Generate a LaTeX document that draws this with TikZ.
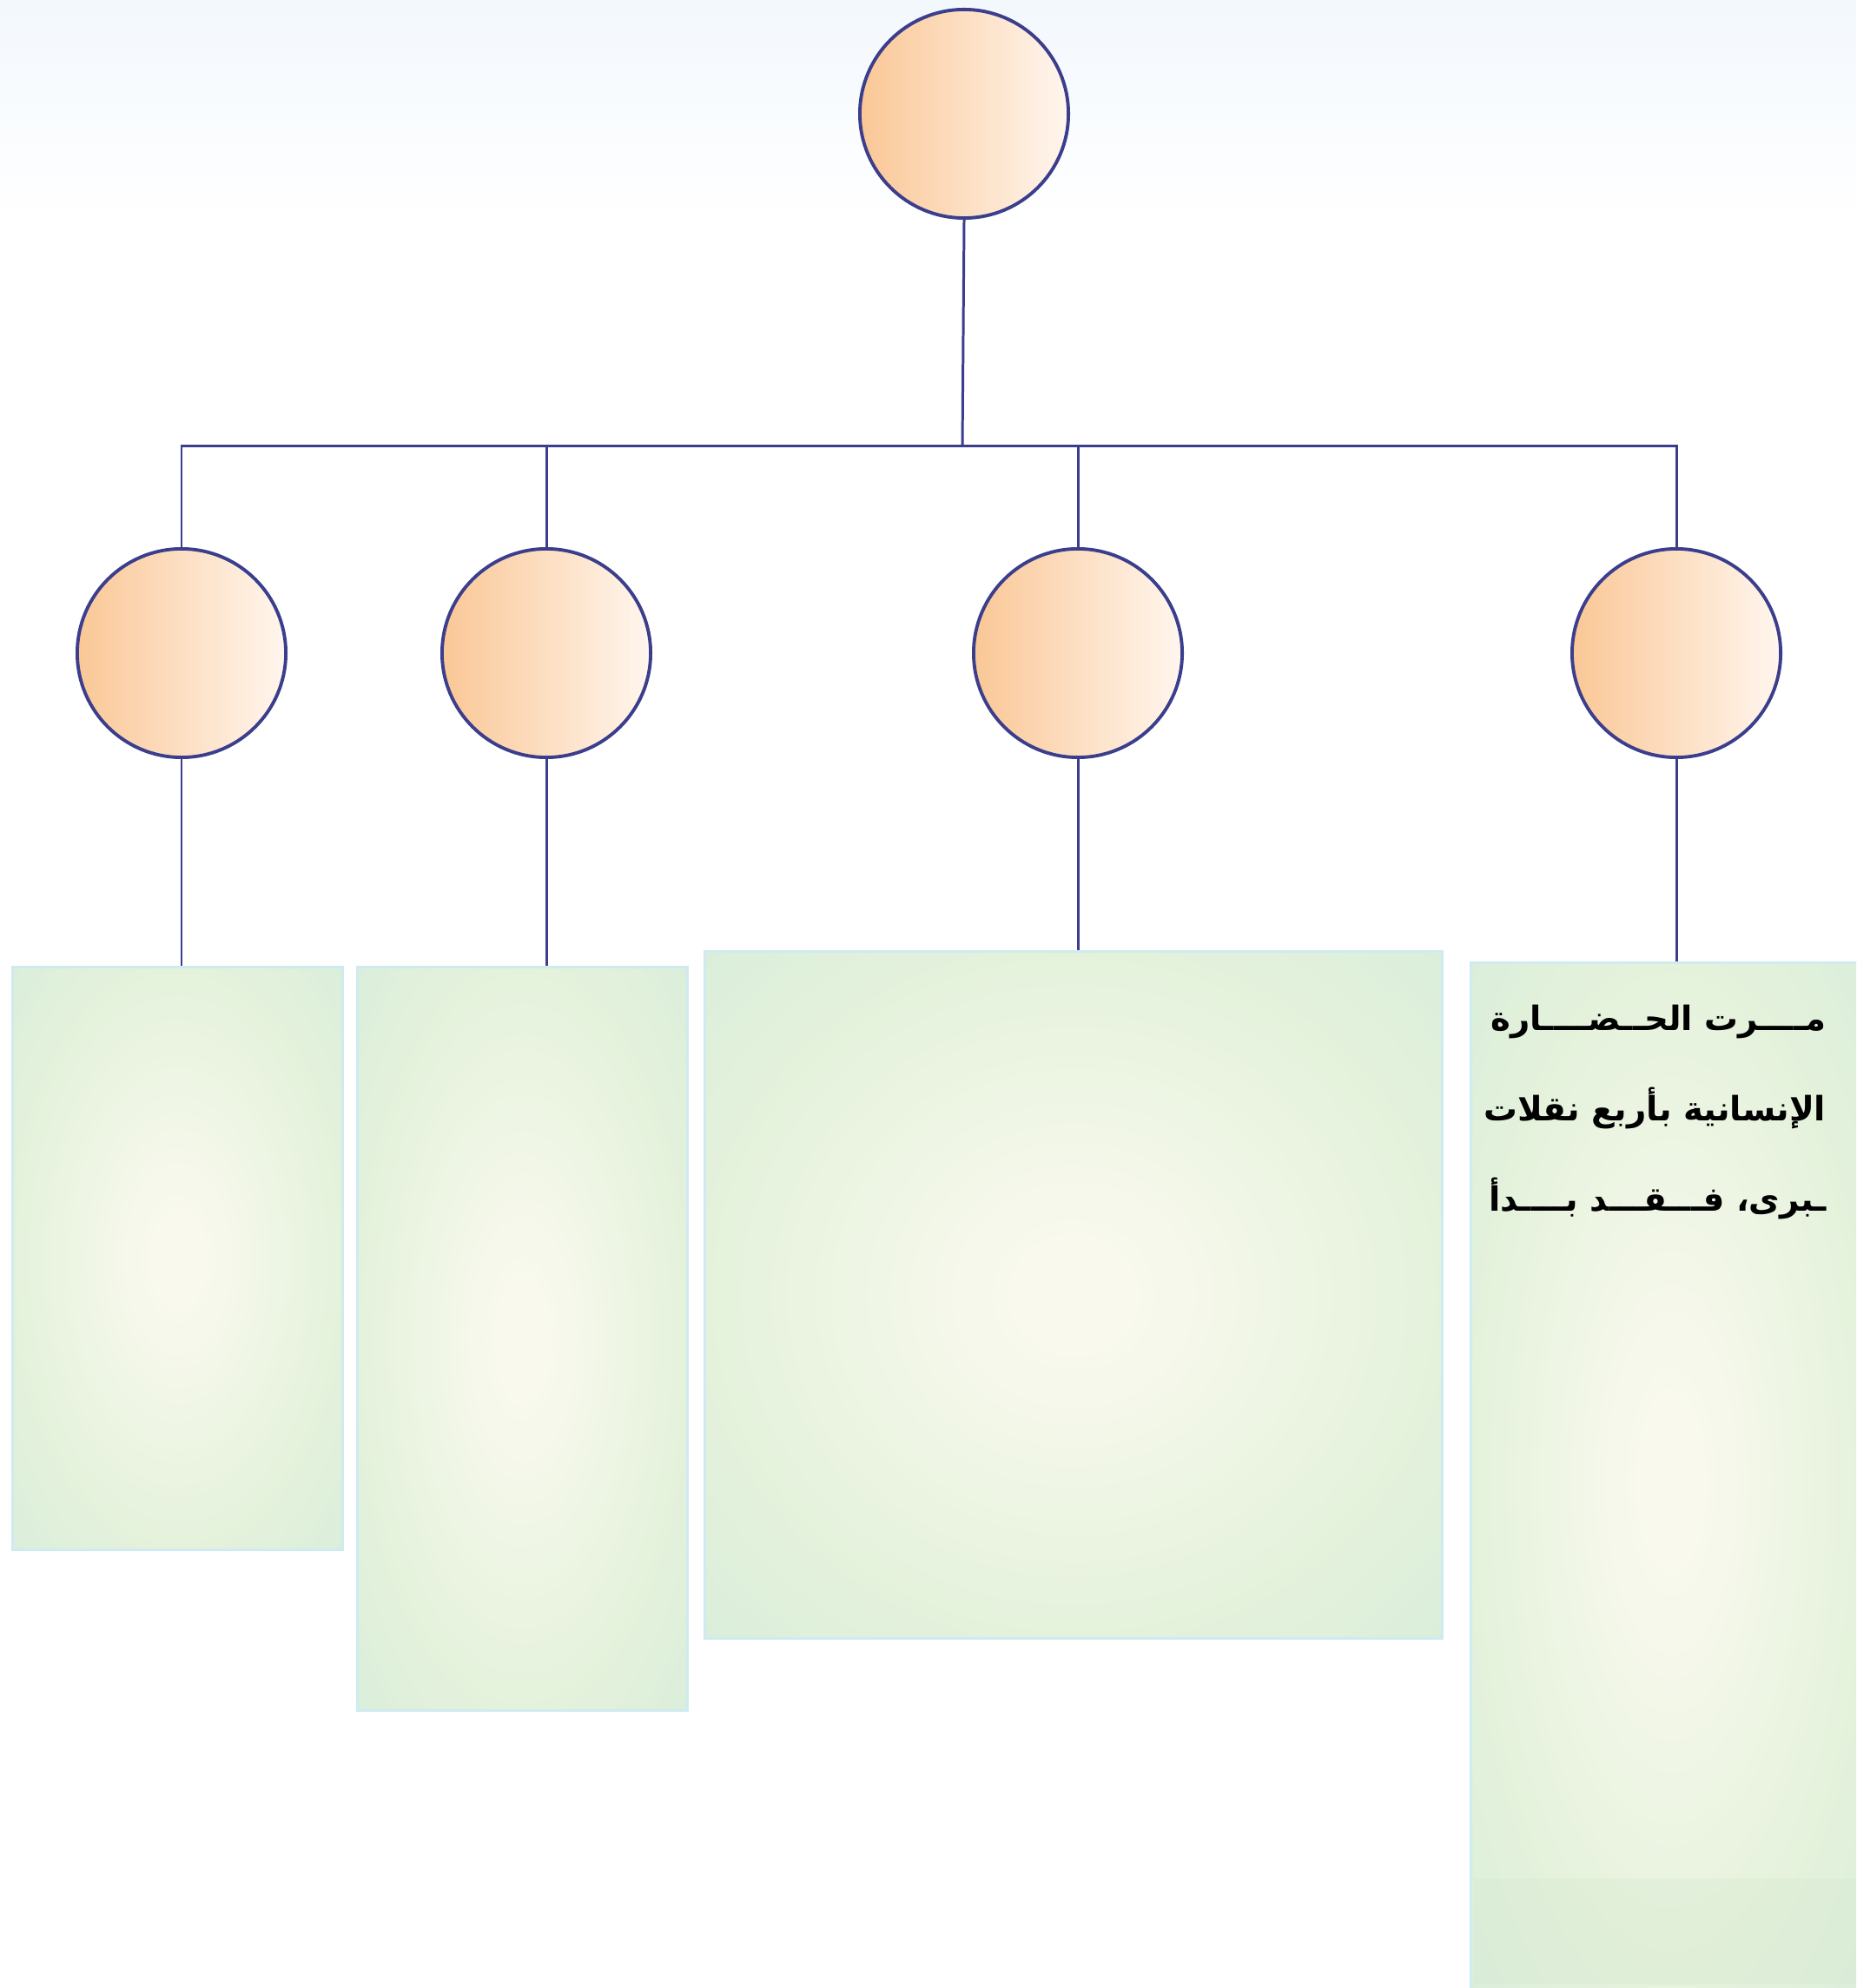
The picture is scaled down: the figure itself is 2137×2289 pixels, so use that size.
\documentclass[tikz,border=0pt]{standalone}
\usepackage{fontspec}
\usepackage{xcolor}
\usepackage{tikz}
\usetikzlibrary{positioning, calc}
\TeXXeTstate=1
\newfontfamily\arabicfont[Script=Arabic]{DejaVu Sans}
\definecolor{darkblue}{RGB}{58,62,140}
\definecolor{lightcyan}{RGB}{207,235,240}
\definecolor{peach}{RGB}{250,199,150}
\definecolor{peachlight}{RGB}{255,246,238}
\definecolor{panelin}{RGB}{249,249,238}
\definecolor{panelmid}{RGB}{229,242,220}
\definecolor{panelout}{RGB}{212,236,218}
\definecolor{panelband}{RGB}{214,232,208}
\definecolor{skytop}{RGB}{243,248,253}
\pgfdeclareradialshading{panelglow}{\pgfpoint{0bp}{0bp}}{%
  color(0bp)=(panelin); color(4bp)=(panelin); color(24bp)=(panelmid); color(42bp)=(panelout); color(70bp)=(panelout)}
\tikzset{
  stage/.style={
      draw=darkblue,
      line width=1.1pt,
      circle,
      left color=peach,
      right color=peachlight,
      minimum size=2.4cm,
      inner sep=0pt
  },
  panel/.style={
      draw=lightcyan,
      line width=0.9pt,
      rectangle,
      shading=panelglow,
      inner sep=0pt
  },
  link/.style={draw=darkblue, line width=0.85pt}
}
\begin{document}
\begin{tikzpicture}[x=0.01cm, y=-0.01cm]
      \useasboundingbox (0,0) rectangle (2137,2289);
      \clip (0,0) rectangle (2137,2289);
      % Background
      \fill[top color=skytop, bottom color=white] (0,0) rectangle (2137,260);

      % Top level
      \node (root) [stage] at (1110,131) {};
      \coordinate (bar) at (1108,514);

      % Second level
      \node (a1) [stage] at (209,752) {};
      \node (a2) [stage] at (629,752) {};
      \node (a3) [stage] at (1241,752) {};
      \node (a4) [stage] at (1930,752) {};

      % Panels
      \node (b1) [panel, minimum width=3.79cm, minimum height=6.70cm] at (204.5,1449) {};
      \node (b2) [panel, minimum width=3.79cm, minimum height=8.55cm] at (601.5,1541.5) {};
      \node (b3) [panel, minimum width=8.48cm, minimum height=7.90cm] at (1236,1491) {};
      \node (b4) [panel, minimum width=4.60cm, minimum height=11.95cm] at (1924,1706) {};
      \fill[panelband, opacity=0.35] (1697,2163) rectangle (2137,2285);

      % Text
      \node (t4) [anchor=north east, align=right, inner sep=0pt,
                  font=\arabicfont\bfseries\fontsize{11}{29.6}\selectfont] at (2103,1156)
        {\beginR مــــرت الحــضــــارة\endR\\
         \beginR الإنسانية بأربع نقلات\endR\\
         \beginR ـبرى، فـــقـــد بــــدأ\endR};

      % Connections
      \draw[link] (root.south) -- (bar);
      \draw[link] (a1.north) -- (a1 |- bar) -- (a4 |- bar) -- (a4.north);
      \draw[link] (a2.north) -- (a2 |- bar);
      \draw[link] (a3.north) -- (a3 |- bar);
      \draw[link] (a1.south) -- (a1.south |- b1.north);
      \draw[link] (a2.south) -- (a2.south |- b2.north);
      \draw[link] (a3.south) -- (a3.south |- b3.north);
      \draw[link] (a4.south) -- (a4.south |- b4.north);
\end{tikzpicture}
\end{document}
